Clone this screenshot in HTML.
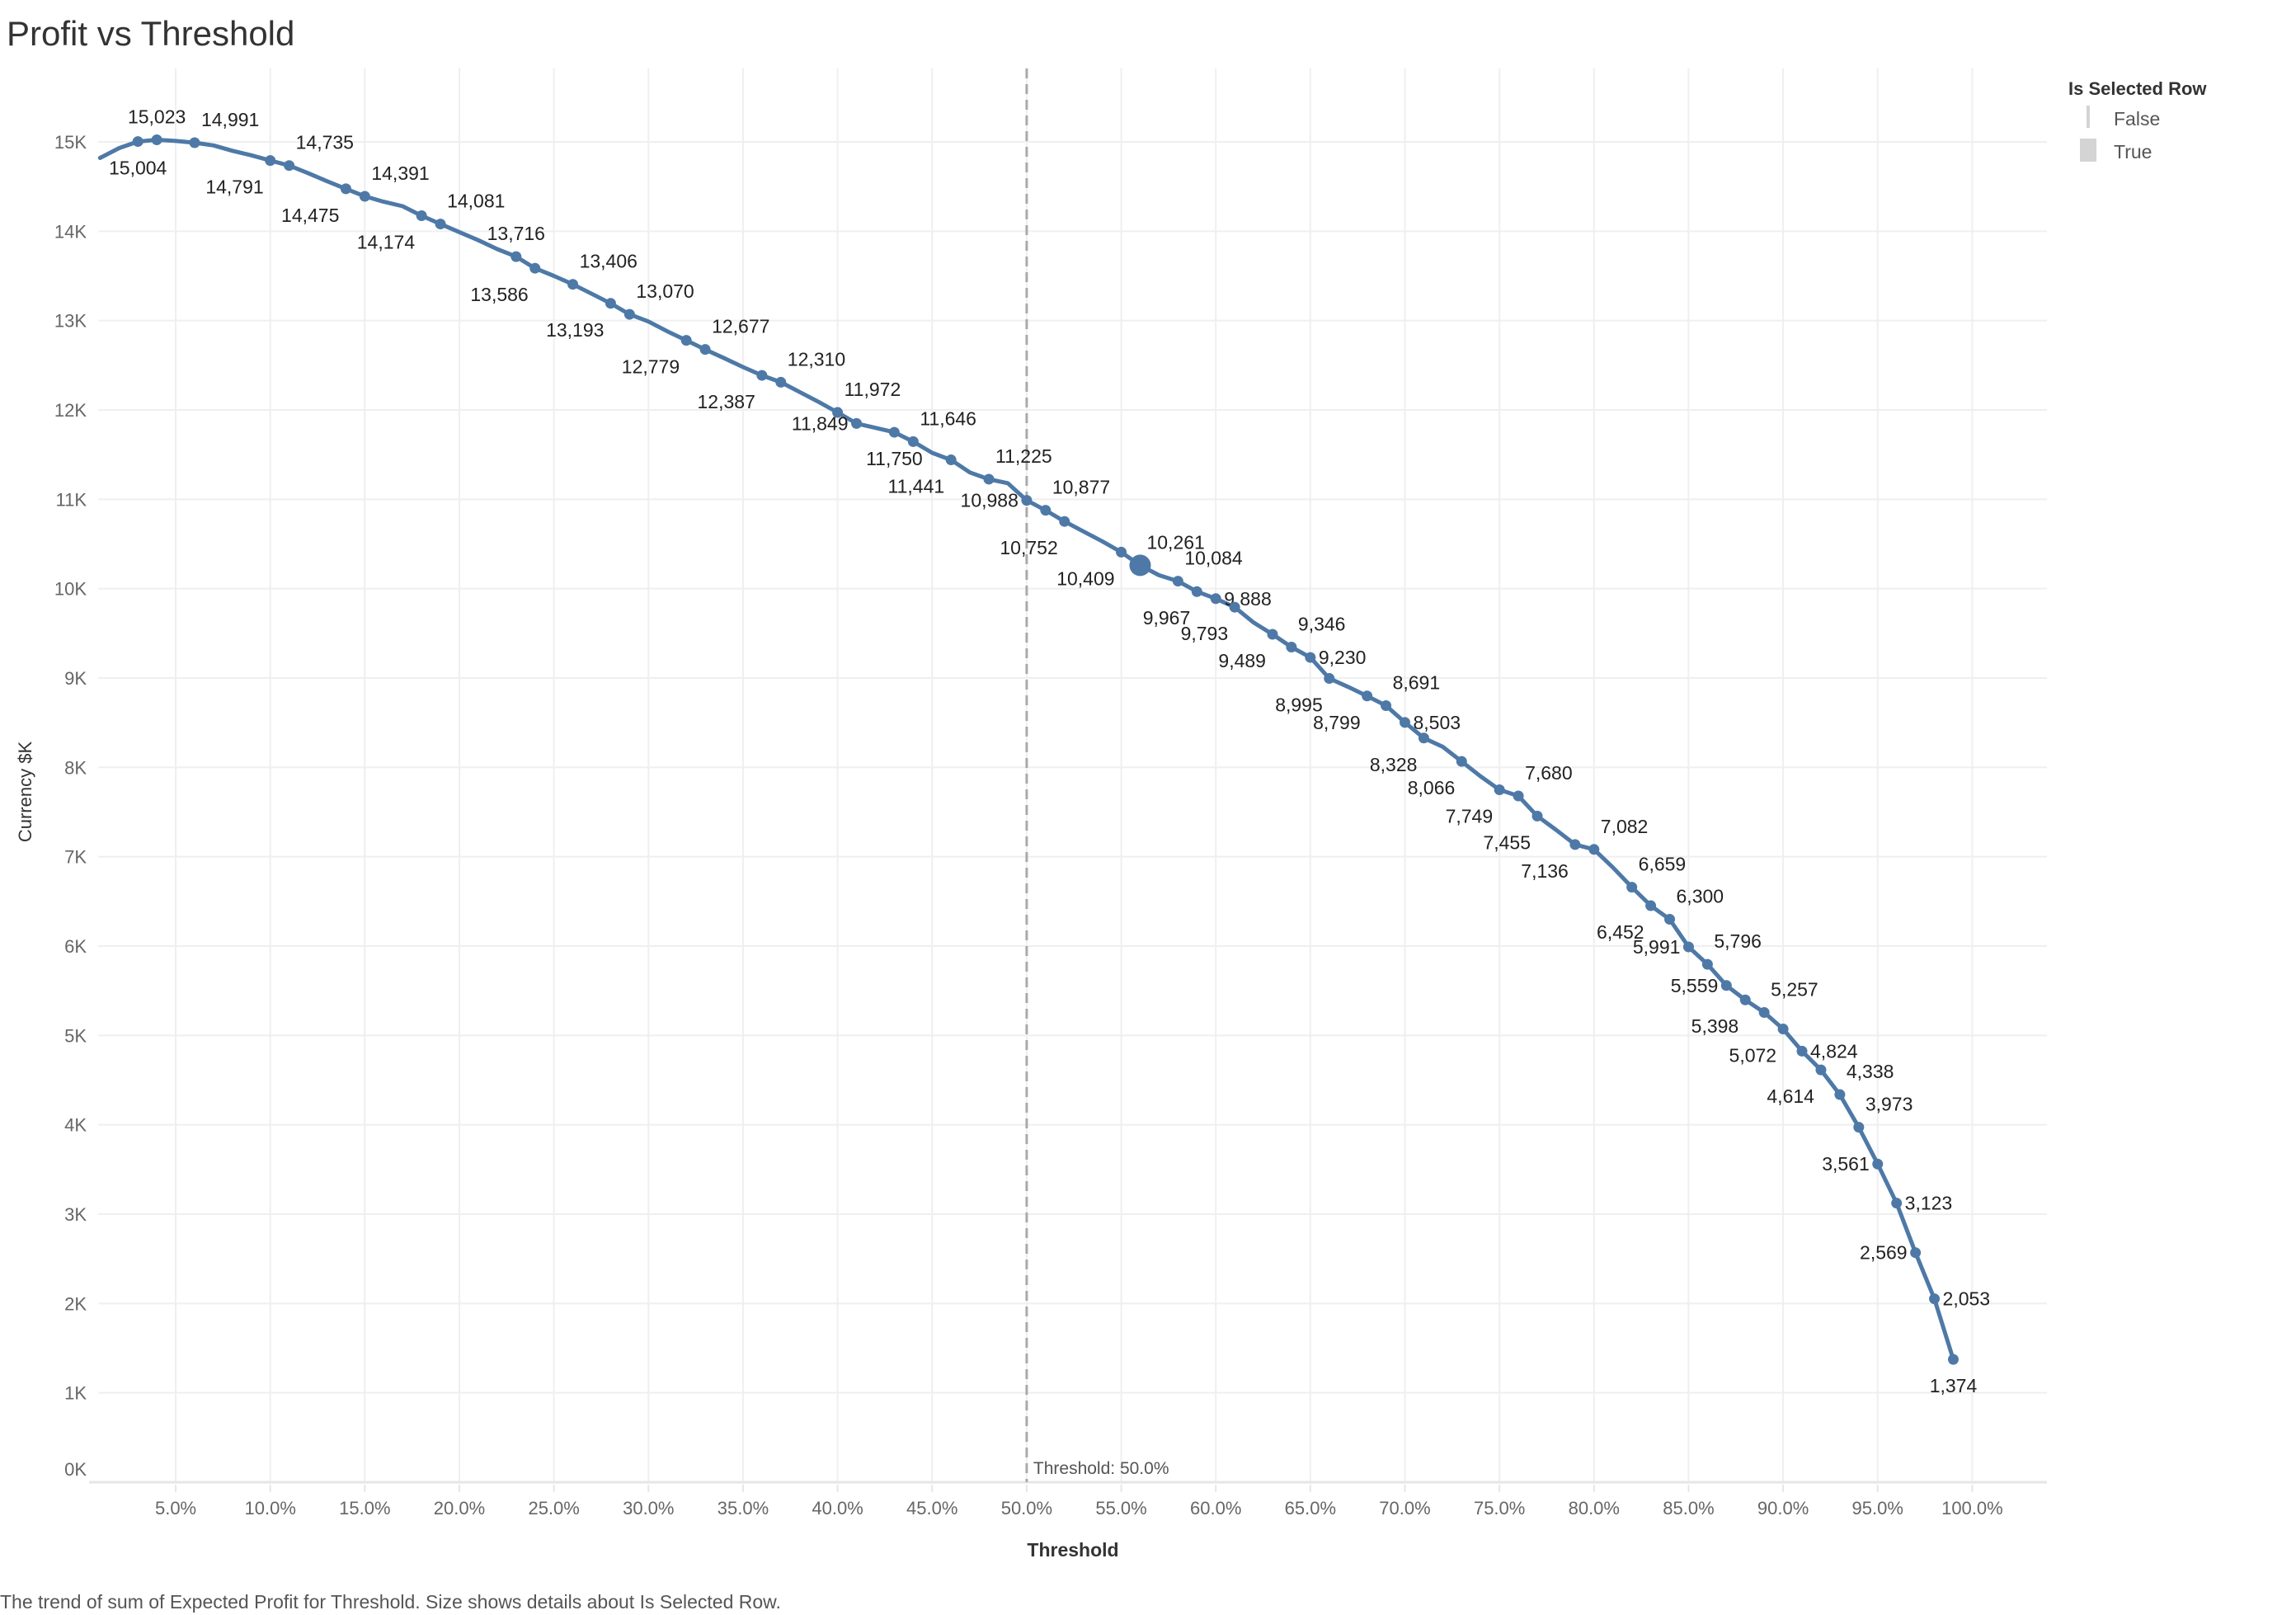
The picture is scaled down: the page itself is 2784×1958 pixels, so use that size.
<!DOCTYPE html>
<html><head><meta charset="utf-8"><style>
body{margin:0;background:#fff;}
svg{display:block;font-family:"Liberation Sans",sans-serif;}
</style></head><body>
<svg id="chart" width="2784" height="1958" xmlns="http://www.w3.org/2000/svg">
<text x="8" y="55" font-size="42" fill="#333">Profit vs Threshold</text>
<g id="grid"></g>
<g id="axes"></g>
<g id="series"></g>
<text transform="translate(38,960) rotate(-90)" text-anchor="middle" font-size="22" fill="#333">Currency $K</text>
<text x="1301" y="1887" text-anchor="middle" font-size="23" fill="#333" font-weight="bold">Threshold</text>
<text x="0" y="1950" font-size="23" fill="#555">The trend of sum of Expected Profit for Threshold.  Size shows details about Is Selected Row.</text>
<g>
<text x="2508" y="115" font-size="22" font-weight="bold" fill="#333">Is Selected Row</text>
<rect x="2530" y="128" width="4" height="27" fill="#d4d4d4"/>
<text x="2563" y="152" font-size="23" fill="#555">False</text>
<rect x="2522" y="168" width="20" height="28" fill="#d4d4d4"/>
<text x="2563" y="192" font-size="23" fill="#555">True</text>
</g>
</svg>
<script>
const thresholds=[1,2,3,4,5,6,7,8,9,10,11,12,13,14,15,16,17,18,19,20,21,22,23,24,25,26,27,28,29,30,31,32,33,34,35,36,37,38,39,40,41,42,43,44,45,46,47,48,49,50,51,52,53,54,55,56,57,58,59,60,61,62,63,64,65,66,67,68,69,70,71,72,73,74,75,76,77,78,79,80,81,82,83,84,85,86,87,88,89,90,91,92,93,94,95,96,97,98,99];
const profits=[14820,14930,15004,15023,15010,14991,14960,14900,14850,14791,14735,14650,14560,14475,14391,14330,14280,14174,14081,13990,13900,13800,13716,13586,13500,13406,13300,13193,13070,12990,12880,12779,12677,12580,12480,12387,12310,12200,12090,11972,11849,11800,11750,11646,11520,11441,11300,11225,11180,10988,10877,10752,10640,10530,10409,10261,10150,10084,9967,9888,9793,9620,9489,9346,9230,8995,8900,8799,8691,8503,8328,8230,8066,7900,7749,7680,7455,7300,7136,7082,6880,6659,6452,6300,5991,5796,5559,5398,5257,5072,4824,4614,4338,3973,3561,3123,2569,2053,1374];
const labelPos=['','','b','a','','ar','','','','bl','ar','','','bl','ar','','','bl','ar','','','','a','bl','','ar','','bl','ar','','','bl','ar','','','bl','ar','','','ar','l','','b','ar','','bl','','ar','','l','ar','bl','','','bl','ar','','ar','bl','r','bl','','bl','ar','r','bl','','bl','ar','r','bl','','bl','','bl','ar','bl','','bl','ar','','ar','bl','ar','l','ar','l','bl','ar','bl','r','bl','ar','ar','l','r','l','r','b'];
const selectedThreshold=56;
const yTicks=[0,1000,2000,3000,4000,5000,6000,7000,8000,9000,10000,11000,12000,13000,14000,15000];
const yTickLabels=['0K','1K','2K','3K','4K','5K','6K','7K','8K','9K','10K','11K','12K','13K','14K','15K'];
const xTicks=[5,10,15,20,25,30,35,40,45,50,55,60,65,70,75,80,85,90,95,100];
const refThreshold=50;

const NS='http://www.w3.org/2000/svg';
const X=t=>98.4+t*22.93;
const Y=v=>1797-v*0.108333;
const L=119,R=2482,T=83,B=1797;
function mk(tag,attrs,parent,text){const e=document.createElementNS(NS,tag);for(const k in attrs)e.setAttribute(k,attrs[k]);if(text!==undefined)e.textContent=text;parent.appendChild(e);return e;}
const grid=document.getElementById('grid'),axes=document.getElementById('axes'),series=document.getElementById('series');
yTicks.forEach((v,i)=>{
  if(v>0){const g=mk('line',{x1:L,x2:R,y1:Y(v),y2:Y(v),stroke:'#efefef','stroke-width':2},grid);
  
  }
  const t=mk('text',{x:105,y:(v===0?Y(v)-8:Y(v)+8),'text-anchor':'end','font-size':22,fill:'#666'},axes,yTickLabels[i]);
  
  
});
xTicks.forEach(p=>{
  const g=mk('line',{x1:X(p),x2:X(p),y1:T,y2:B,stroke:'#efefef','stroke-width':2},grid);
  
  
  const tk=mk('line',{x1:X(p),x2:X(p),y1:B+3,y2:B+12,stroke:'#e6e6e6','stroke-width':2},axes);
  
  
  const t=mk('text',{x:X(p),y:1836,'text-anchor':'middle','font-size':22,fill:'#666'},axes,p.toFixed(1)+'%');
  
  
});
const ax=mk('line',{x1:108,x2:R,y1:B,y2:B,stroke:'#e6e6e6','stroke-width':3},axes);


const ref=mk('line',{x1:X(refThreshold),x2:X(refThreshold),y1:T,y2:B,stroke:'#aaa','stroke-width':3,'stroke-dasharray':'12,7'},series);


const rl=mk('text',{x:X(refThreshold)+8,y:B-10,'font-size':21,fill:'#555'},series,'Threshold: '+refThreshold.toFixed(1)+'%');


const d=thresholds.map((t,i)=>(i?'L':'M')+X(t).toFixed(1)+','+Y(profits[i]).toFixed(1)).join(' ');
const path=mk('path',{d:d,fill:'none',stroke:'#4e79a7','stroke-width':5,'stroke-linejoin':'round','stroke-linecap':'round'},series);


thresholds.forEach((t,i)=>{
  const pos=labelPos[i];if(!pos)return;
  const x=X(t),y=Y(profits[i]);
  const sel=t===selectedThreshold;
  const c=mk('circle',{cx:x,cy:y,r:sel?13:6.5,fill:'#4e79a7'},series);
  
  
  let lx=x,ly=y,anchor='middle';
  if(pos==='a'){ly=y-20;}
  else if(pos==='b'){ly=y+40;}
  else if(pos==='ar'){lx=x+8;ly=y-20;anchor='start';}
  else if(pos==='bl'){lx=x-8;ly=y+40;anchor='end';}
  else if(pos==='r'){lx=x+10;ly=y+8;anchor='start';}
  else if(pos==='l'){lx=x-10;ly=y+8;anchor='end';}
  const lb=mk('text',{x:lx,y:ly,'text-anchor':anchor,'font-size':23,fill:'#222'},series,profits[i].toLocaleString('en-US'));
  
  
});
</script>
</body></html>
